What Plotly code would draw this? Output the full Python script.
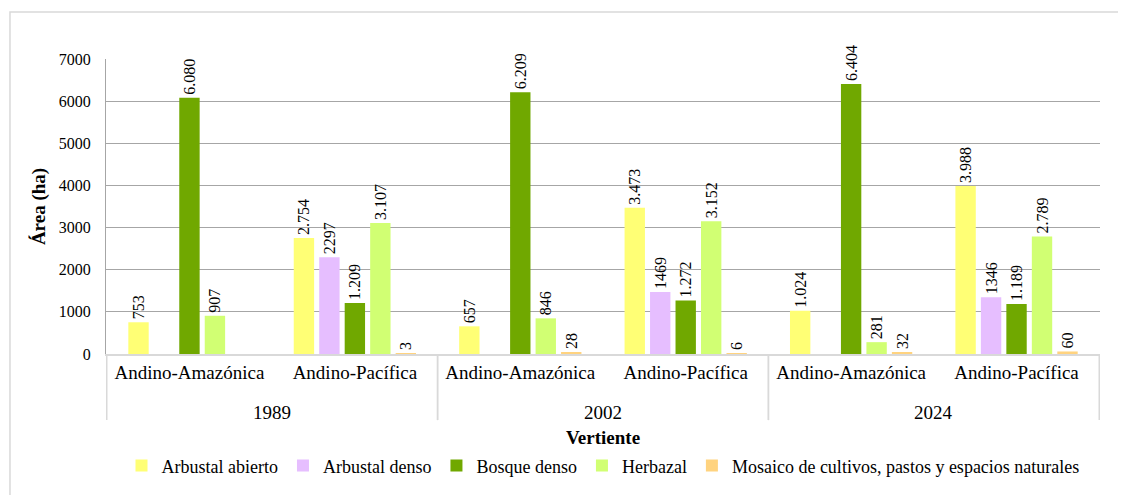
import plotly.graph_objects as go

years = ["1989", "1989", "2002", "2002", "2024", "2024"]
vertientes = ["Andino-Amazónica", "Andino-Pacífica"] * 3

arbustal_abierto = [753, 2754, 657, 3473, 1024, 3988]
arbustal_denso = [None, 2297, None, 1469, None, 1346]
bosque_denso = [6080, 1209, 6209, 1272, 6404, 1189]
herbazal = [907, 3107, 846, 3152, 281, 2789]
mosaico = [None, 3, 28, 6, 32, 60]

# labels as printed in the source (mixed thousands separators)
lbl_arbustal_abierto = ["753", "2.754", "657", "3.473", "1.024", "3.988"]
lbl_arbustal_denso = ["", "2297", "", "1469", "", "1346"]
lbl_bosque_denso = ["6.080", "1.209", "6.209", "1.272", "6.404", "1.189"]
lbl_herbazal = ["907", "3.107", "846", "3.152", "281", "2.789"]
lbl_mosaico = ["", "3", "28", "6", "32", "60"]

series = [
    ("Arbustal abierto", arbustal_abierto, lbl_arbustal_abierto, "#FFFF75"),
    ("Arbustal denso", arbustal_denso, lbl_arbustal_denso, "#E6BEFF"),
    ("Bosque denso", bosque_denso, lbl_bosque_denso, "#70A800"),
    ("Herbazal", herbazal, lbl_herbazal, "#D1FF73"),
    ("Mosaico de cultivos, pastos y espacios naturales", mosaico, lbl_mosaico, "#FFD37F"),
]

FONT = "Liberation Serif"
GRID = "#a6a6a6"
LIGHT = "#d9d9d9"

# one unique category per (year, vertiente); tick text shows only the vertiente
cats = [f"{y} {v}" for y, v in zip(years, vertientes)]

fig = go.Figure()
for name, vals, labels, color in series:
    fig.add_trace(
        go.Bar(
            x=cats,
            y=vals,
            name=name,
            marker=dict(color=color, line=dict(width=0)),
            text=labels,
            textposition="outside",
            textangle=-90,
            constraintext="none",
            cliponaxis=False,
            textfont=dict(family=FONT, size=16, color="black"),
        )
    )

# year row under the vertiente labels, with divider lines between years
year_order = list(dict.fromkeys(years))
for yr in year_order:
    idx = [i for i, y in enumerate(years) if y == yr]
    fig.add_annotation(
        x=sum(idx) / len(idx), xref="x",
        y=-0.197, yref="paper",
        text=yr, showarrow=False,
        font=dict(family=FONT, size=19),
        yanchor="middle",
    )
    for edge in (idx[0] - 0.5, idx[-1] + 0.5):
        fig.add_shape(
            type="line", xref="x", yref="paper",
            x0=edge, x1=edge, y0=0, y1=-0.224,
            line=dict(color=LIGHT, width=1.5),
        )

# outer chart border (partly outside the visible page, like the clipped source)
fig.add_shape(
    type="rect", xref="paper", yref="paper",
    x0=-0.0966, x1=1.2, y0=-0.6, y1=1.159,
    line=dict(color=LIGHT, width=1.5), layer="below",
)

# page body adds 8px; size and margins compensate for it
fig.update_layout(
    width=1118,
    height=487,
    margin=dict(l=98, r=26, t=51, b=140),
    paper_bgcolor="white",
    plot_bgcolor="white",
    barmode="group",
    bargap=0.23,
    bargroupgap=0.2,
    font=dict(family=FONT, size=16, color="black"),
    showlegend=True,
    legend=dict(
        orientation="h",
        x=0.5, xanchor="center",
        y=-0.312, yanchor="top",
        font=dict(family=FONT, size=18),
        itemwidth=30,
    ),
    xaxis=dict(
        type="category",
        tickvals=cats,
        ticktext=vertientes,
        title=dict(text="<b>Vertiente</b>", font=dict(family=FONT, size=19), standoff=49),
        tickfont=dict(family=FONT, size=19),
        showline=True,
        linecolor=LIGHT,
        linewidth=1.5,
        ticks="",
        showgrid=False,
    ),
    yaxis=dict(
        title=dict(text="<b>Área (ha)</b>", font=dict(family=FONT, size=19), standoff=8),
        range=[0, 7000],
        dtick=1000,
        tickformat="d",
        showgrid=True,
        gridcolor=GRID,
        gridwidth=1,
        showline=True,
        linecolor=GRID,
        linewidth=1,
        zeroline=False,
        ticks="",
        ticklabelstandoff=11,
        tickfont=dict(family=FONT, size=16),
    ),
)

fig.write_html("out.html")
